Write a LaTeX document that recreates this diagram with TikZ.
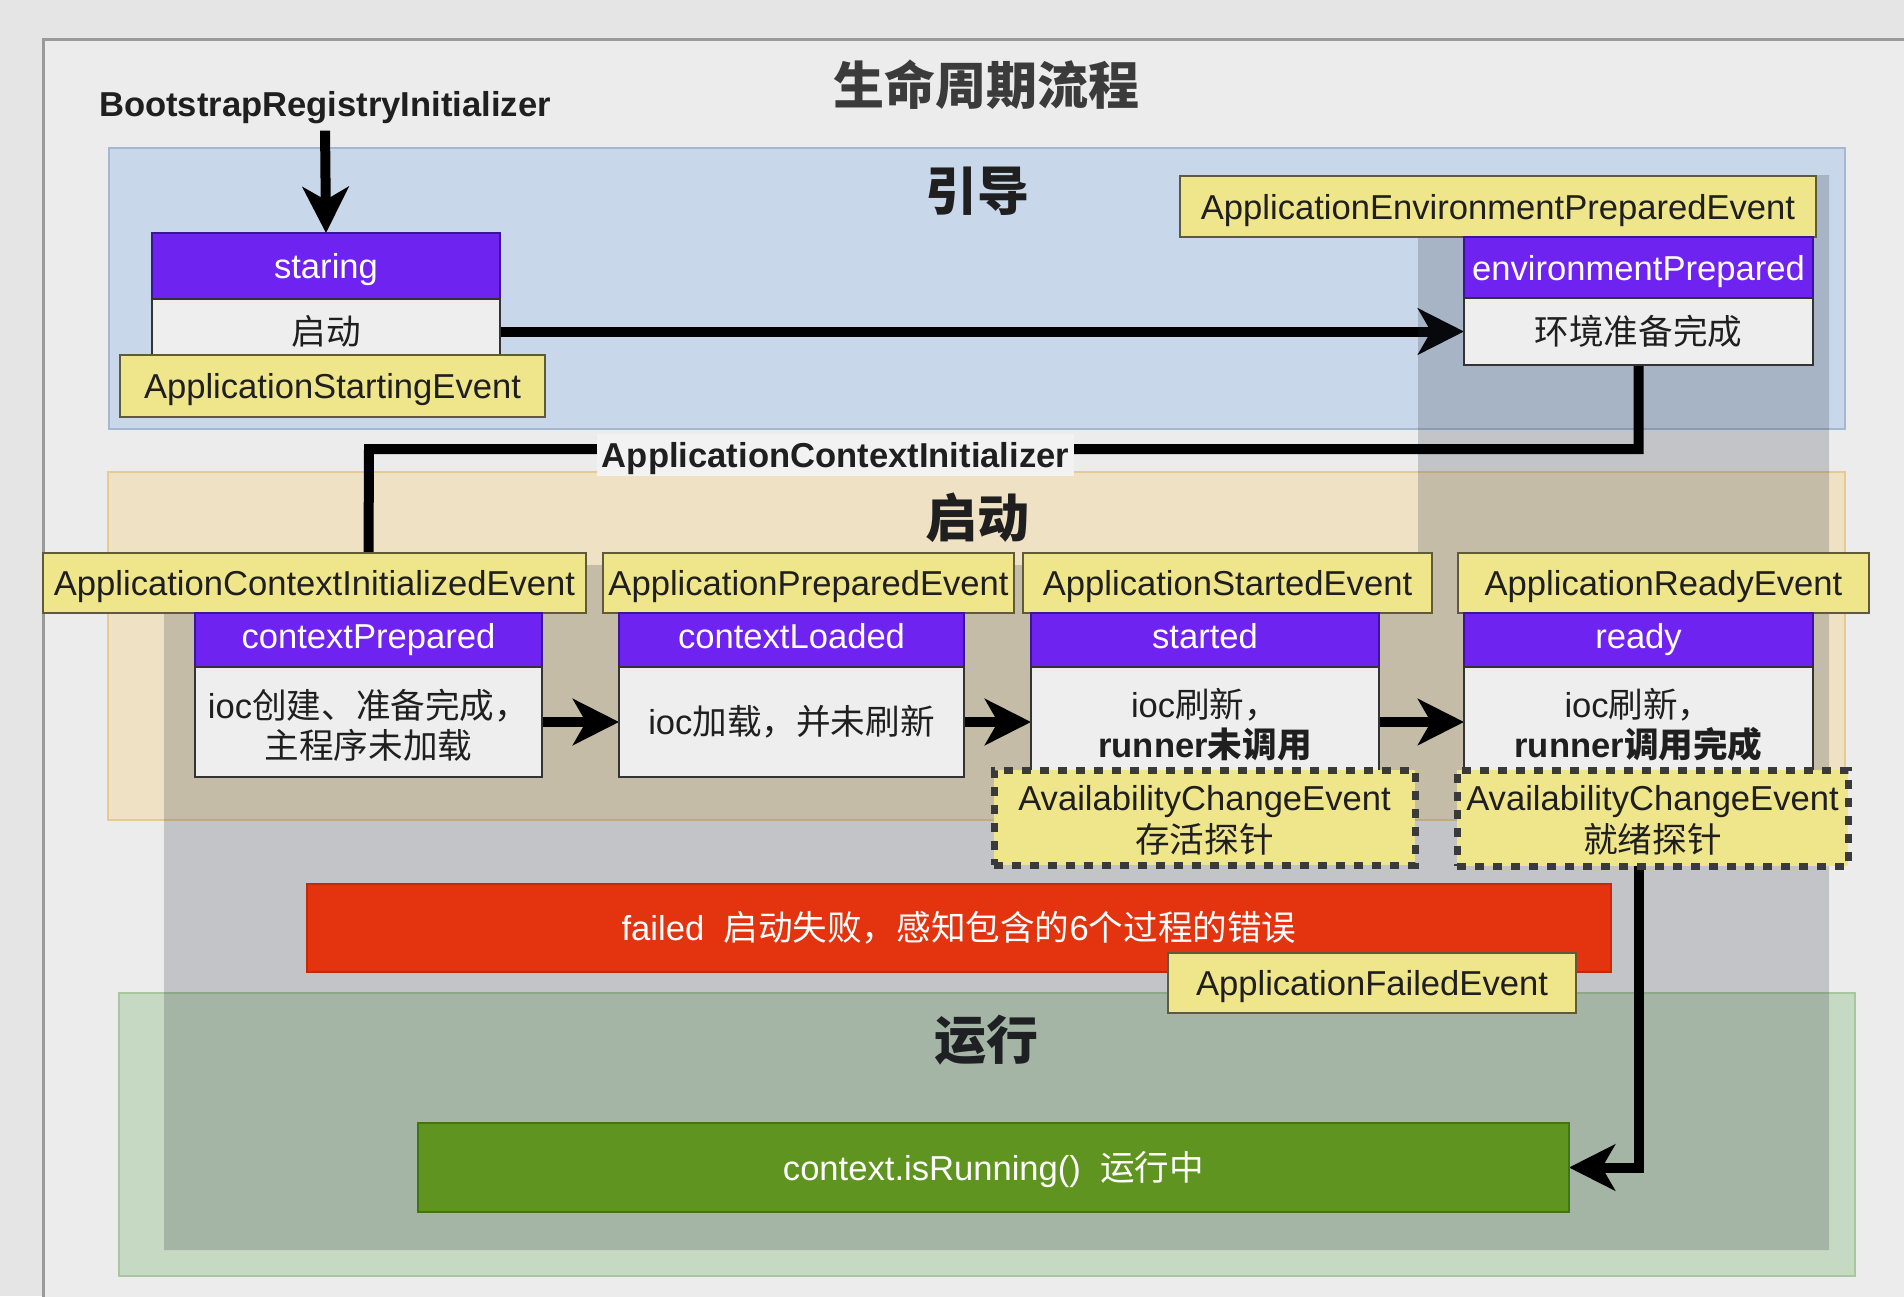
\documentclass[tikz,border=0pt]{standalone}
\usepackage{fontspec}
\setmainfont{Liberation Sans}
\newfontfamily\cjk{Noto Sans CJK SC}
\usetikzlibrary{arrows.meta}
\definecolor{pagebg}{HTML}{E5E5E5}
\definecolor{framebg}{HTML}{ECECEC}
\definecolor{frameline}{HTML}{9A9A9A}
\definecolor{bluefill}{HTML}{C9D7EA}
\definecolor{blueline}{HTML}{A4B7D3}
\definecolor{tanfill}{HTML}{EFE2C4}
\definecolor{tanline}{HTML}{E6CB8F}
\definecolor{greenfill}{HTML}{C6D9C2}
\definecolor{greenline}{HTML}{A9C79E}
\definecolor{shadec}{RGB}{30,40,55}
\definecolor{evtfill}{HTML}{EFE58A}
\definecolor{evtline}{HTML}{5E5A3A}
\definecolor{hdrfill}{HTML}{6E23F0}
\definecolor{hdrline}{HTML}{3C1399}
\definecolor{bodyfill}{HTML}{EEEEEE}
\definecolor{bodyline}{HTML}{333333}
\definecolor{probeline}{HTML}{3A3A3A}
\definecolor{failfill}{HTML}{E3330F}
\definecolor{failline}{HTML}{C42A0A}
\definecolor{runfill}{HTML}{5E941F}
\definecolor{runline}{HTML}{3E7614}
\definecolor{lblfill}{HTML}{F2F2F2}
\definecolor{titlec}{HTML}{3B3B3B}
\definecolor{textc}{HTML}{1F1F1F}
\newcommand\fsz{\fontsize{17.3}{20}\selectfont}
\newcommand\fszb{\fontsize{17.3}{21}\selectfont}
\pgfdeclarelayer{regions}
\pgfdeclarelayer{under}
\pgfdeclarelayer{shade}
\pgfdeclarelayer{wires}
\pgfsetlayers{regions,under,shade,wires,main}
\tikzset{
  base/.style={inner sep=0pt, outer sep=0pt, font=\fsz, align=center},
  one/.style={text height=12.5pt, text depth=0pt},
  evt/.style={base, one, draw=evtline, fill=evtfill, line width=1.2pt, text=textc},
  hdr/.style={base, one, draw=hdrline, fill=hdrfill, line width=1pt, text=white},
  hdrlow/.style={hdr, text depth=3.6pt},
  body/.style={base, draw=bodyline, fill=bodyfill, line width=1pt, text=textc},
  probe/.style={base, font=\fszb, draw=probeline, fill=evtfill, line width=3.5pt, dash pattern=on 4.5pt off 4.5pt, text=textc},
  conn/.style={line width=5pt, draw=black},
  arr/.style={-{Stealth[length=23pt,width=23pt,inset=6.5pt]}},
  region/.style={line width=1pt},
  rlabel/.style={font=\cjk\bfseries\fontsize{26}{30}\selectfont, text=textc}
}
\begin{document}
\begin{tikzpicture}[x=0.5pt,y=-0.5pt]
\useasboundingbox (0,0) rectangle (1904,1296);
\begin{pgfonlayer}{regions}
\fill[pagebg] (0,0) rectangle (1904,1296);
\draw[fill=framebg, draw=frameline, line width=1.5pt] (43,39) rectangle (1940,1330);
\draw[region, draw=blueline, fill=bluefill] (109,148) rectangle (1845,429);
\draw[region, draw=tanline, fill=tanfill] (108,472) rectangle (1845,820);
\draw[region, draw=greenline, fill=greenfill] (119,993) rectangle (1855,1276);
\node[rlabel] (tYin) at (977,191) {引导};
\node[rlabel] (tQi) at (977,518) {启动};
\node[rlabel] (tYun) at (986,1040) {运行};
\end{pgfonlayer}

\node[font=\cjk\bfseries\fontsize{25.5}{30}\selectfont, text=titlec] (title) at (986,85) {生命周期流程};
\node[font=\bfseries\fsz, text=textc, inner sep=0pt] (bri) at (325,108) {BootstrapRegistryInitializer};

% staring
\node[hdr, minimum width=174pt, minimum height=33pt] (sgP) at (326,266) {staring};
\node[body, one, minimum width=174pt, minimum height=32.5pt] (sgW) at (326,331.5) {\cjk 启动};
\node[evt, minimum width=212.5pt, minimum height=31pt] (startEvt) at (332.5,386) {ApplicationStartingEvent};

% environment
\node[evt, minimum width=318pt, minimum height=30.5pt] (envEvt) at (1498,206.5) {ApplicationEnvironmentPreparedEvent};
\node[hdr, minimum width=174.5pt, minimum height=30.5pt] (envP) at (1638.5,267.5) {environmentPrepared};
\node[body, one, minimum width=174.5pt, minimum height=33.5pt] (envW) at (1638.5,331.5) {\cjk 环境准备完成};

% events of startup
\node[evt, minimum width=271.5pt, minimum height=30pt] (aciEvt) at (314.5,583) {ApplicationContextInitializedEvent};
\node[evt, minimum width=205.5pt, minimum height=30pt] (apeEvt) at (808.5,583) {ApplicationPreparedEvent};
\node[evt, minimum width=204.5pt, minimum height=30pt] (aseEvt) at (1227.5,583) {ApplicationStartedEvent};
\node[evt, minimum width=205.5pt, minimum height=30pt] (areEvt) at (1663.5,583) {ApplicationReadyEvent};

\node[hdrlow, minimum width=173.5pt, minimum height=27pt] (cpP) at (368.5,640) {contextPrepared};
\node[body, minimum width=173.5pt, minimum height=55pt] (cpW) at (368.5,722) {};
\node[base, text=textc] (cpT) at (368.5,725) {ioc{\cjk 创建、准备完成，}\\{\cjk 主程序未加载}};
\node[hdrlow, minimum width=172.5pt, minimum height=27pt] (clP) at (791.5,640) {contextLoaded};
\node[body, one, minimum width=172.5pt, minimum height=55pt] (clW) at (791.5,722) {ioc{\cjk 加载，并未刷新}};
\node[hdrlow, minimum width=174pt, minimum height=27pt] (sdP) at (1205,640) {started};
\node[body, minimum width=174pt, minimum height=55pt] (sdW) at (1205,722) {};
\node[base, text=textc] (sdT) at (1205,725) {ioc{\cjk 刷新，}\\\textbf{runner{\cjk 未调用}}};
\node[hdrlow, minimum width=174.5pt, minimum height=27pt] (rdP) at (1638.5,640) {ready};
\node[body, minimum width=174.5pt, minimum height=55pt] (rdW) at (1638.5,722) {};
\node[base, text=textc] (rdT) at (1638.5,725) {ioc{\cjk 刷新，}\\\textbf{runner{\cjk 调用完成}}};

\node[probe, minimum width=210.5pt, minimum height=47.5pt] (pr1) at (1204.5,817.5) {};
\node[base, font=\fszb, text=textc] (pr1T) at (1204.5,820) {AvailabilityChangeEvent\\{\cjk 存活探针}};
\node[probe, minimum width=195.5pt, minimum height=48pt] (pr2) at (1652.5,818) {};
\node[base, font=\fszb, text=textc] (pr2T) at (1652.5,820) {AvailabilityChangeEvent\\{\cjk 就绪探针}};

% failed and running
\node[base, one, fill=failfill, draw=failline, line width=1pt, text=white, minimum width=652pt, minimum height=44pt] (failed) at (959,928) {failed\ \ {\cjk 启动失败，感知包含的}6{\cjk 个过程的错误}};
\node[evt, minimum width=204pt, minimum height=30pt] (failEvt) at (1372,983) {ApplicationFailedEvent};
\node[base, one, fill=runfill, draw=runline, line width=1pt, text=white, minimum width=575.5pt, minimum height=44.5pt] (run) at (993.5,1167.5) {context.isRunning()\ \ {\cjk 运行中}};

\node[base, one, font=\bfseries\fsz, text=textc, fill=lblfill, minimum width=238.5pt, minimum height=21pt] (aciLbl) at (835.5,455) {ApplicationContextInitializer};

\begin{pgfonlayer}{under}
\draw[conn, arr] (sgW.east) -- (envW.west);
\end{pgfonlayer}
\begin{pgfonlayer}{shade}
\fill[shadec, opacity=0.2] (1418,175) -- (1829,175) -- (1829,1250) -- (164,1250) -- (164,565) -- (1418,565) -- cycle;
\end{pgfonlayer}
\begin{pgfonlayer}{wires}
\coordinate (aciBend) at (369,449);
\draw[conn, arr, shorten <=3pt] (bri.south) -- (sgP.north);
\draw[conn] (envW.south) |- (aciBend) -- (cpP.north |- aciEvt.north);
\draw[conn, arr] (cpW.east) -- (clW.west);
\draw[conn, arr] (clW.east) -- (sdW.west);
\draw[conn, arr] (sdW.east) -- (rdW.west);
\draw[conn, arr] (rdW.south |- pr2.south) |- (run.east);
\end{pgfonlayer}
\end{tikzpicture}
\end{document}
